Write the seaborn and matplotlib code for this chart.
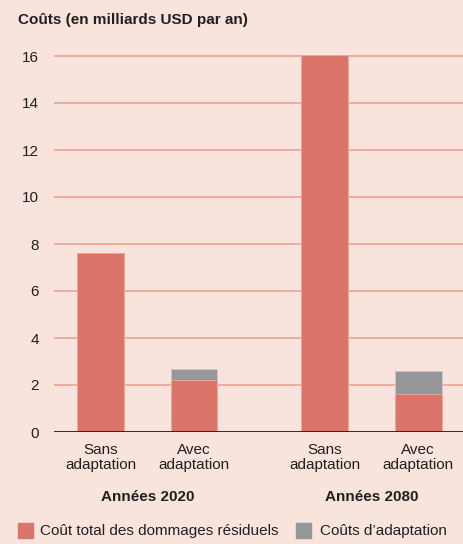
import matplotlib
matplotlib.use("Agg")
import matplotlib.pyplot as plt
import seaborn as sns
import pandas as pd
from matplotlib.patches import Rectangle

# data
groups = ["Années 2020", "Années 2080"]
scenarios = ["Sans\nadaptation", "Avec\nadaptation"]
residual = [7.6, 2.2, 16.05, 1.6]      # Coût total des dommages résiduels
adaptation = [0.0, 0.5, 0.0, 1.0]     # Coûts d'adaptation
yticks = [0, 2, 4, 6, 8, 10, 12, 14, 16]

BG = "#F8E3DD"
RED = "#DB756A"
GREY = "#96979B"
GRID = "#EBA396"
TXT = "#231F20"

sns.set_theme(style="white")
plt.rcParams["font.family"] = ["Liberation Sans Narrow", "Liberation Sans", "DejaVu Sans"]

# bar positions: two bars per group, wider gap between groups
gap = 1.4
pos = [g * (len(scenarios) + gap - 1) + i for g in range(len(groups)) for i in range(len(scenarios))]
df = pd.DataFrame({
    "pos": pos,
    "residual": residual,
    "total": [r + a for r, a in zip(residual, adaptation)],
})

fig = plt.figure(figsize=(4.64, 5.44), dpi=100, facecolor=BG)
ax = fig.add_axes([54 / 464, (544 - 432) / 544, 1 - 54 / 464, 16.5 * 23.5 / 544])
ax.set_facecolor(BG)

# stacked bars: draw totals in grey, then residual on top in red
sns.barplot(data=df, x="pos", y="total", native_scale=True, color=GREY, width=0.5,
            saturation=1, edgecolor="#C9C9CB", linewidth=0.6, ax=ax, zorder=3)
sns.barplot(data=df, x="pos", y="residual", native_scale=True, color=RED, width=0.5,
            saturation=1, edgecolor="#EFA89E", linewidth=0.6, ax=ax, zorder=4)

ax.set_xlim(-0.5, 3.89)
ax.set_ylim(0, 16.5)
ax.set_yticks(yticks)
ax.set_yticklabels([str(t) for t in yticks], fontsize=11, color=TXT)
for t in yticks[1:]:
    ax.axhline(t, color=GRID, lw=1.2, zorder=1)
ax.axhline(0, color=TXT, lw=1.3, zorder=5)
ax.tick_params(axis="y", length=0, pad=11)
ax.tick_params(axis="x", length=0, pad=8)
ax.set_xticks(pos)
ax.set_xticklabels(scenarios * len(groups), fontsize=11, color=TXT, linespacing=1.1)
ax.set_xlabel("")
ax.set_ylabel("")
for s in ax.spines.values():
    s.set_visible(False)

# group labels
for g, name in enumerate(groups):
    c = sum(pos[g * 2:(g + 1) * 2]) / 2
    ax.text(c, -0.168, name, transform=ax.get_xaxis_transform(), ha="center", va="center",
            fontsize=11, fontweight="bold", color=TXT)

fig.text(18 / 464, 1 - 20 / 544, "Coûts (en milliards USD par an)", ha="left", va="center",
         fontsize=11, fontweight="bold", color=TXT)

# legend
ly = 1 - 531 / 544
fig.patches.append(Rectangle((18 / 464, ly - 7 / 544), 15 / 464, 15 / 544, transform=fig.transFigure,
                             color=RED, figure=fig))
fig.text(40 / 464, ly, "Coût total des dommages résiduels", ha="left", va="center", fontsize=11, color=TXT)
fig.patches.append(Rectangle((296 / 464, ly - 7 / 544), 15 / 464, 15 / 544, transform=fig.transFigure,
                             color=GREY, figure=fig))
fig.text(320 / 464, ly, "Coûts d’adaptation", ha="left", va="center", fontsize=11, color=TXT)

fig.savefig("out.png", dpi=100, facecolor=BG)
